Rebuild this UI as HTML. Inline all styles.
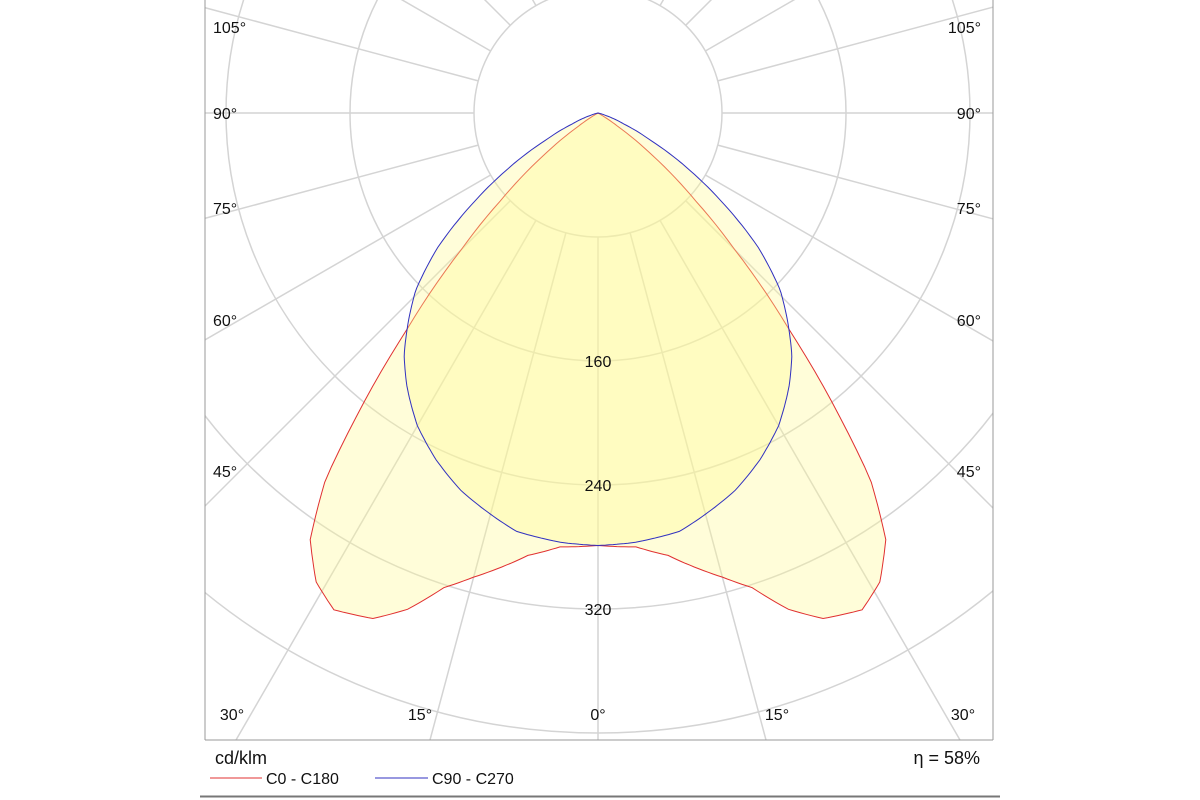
<!DOCTYPE html>
<html><head><meta charset="utf-8">
<style>
html,body{margin:0;padding:0;background:#fff;overflow:hidden;}
svg{display:block;font-family:"Liberation Sans",Arial,sans-serif;}
</style></head>
<body>
<svg id="chart" width="1200" height="800" viewBox="0 0 1200 800">
  <defs><clipPath id="frameClip"><rect x="205" y="0" width="788" height="740"/></clipPath></defs>
  <rect x="0" y="0" width="1200" height="800" fill="#fff"/>
  <g id="grid" clip-path="url(#frameClip)"></g>
  <g id="series" clip-path="url(#frameClip)"></g>
  <g id="labels"></g>
  <line x1="205" y1="0" x2="205" y2="740" stroke="#999" stroke-width="1"/>
  <line x1="993" y1="0" x2="993" y2="740" stroke="#999" stroke-width="1"/>
  <line x1="205" y1="740" x2="993" y2="740" stroke="#999" stroke-width="1"/>
  <text x="215" y="764" font-size="18" fill="#111">cd/klm</text>
  <text x="980" y="764" font-size="18" fill="#111" text-anchor="end">η = 58%</text>
  <line x1="210" y1="778" x2="262" y2="778" stroke="#e03030" stroke-width="1"/>
  <text x="266" y="784" font-size="16" fill="#111">C0 - C180</text>
  <line x1="375" y1="778" x2="428" y2="778" stroke="#3030c0" stroke-width="1"/>
  <text x="432" y="784" font-size="16" fill="#111">C90 - C270</text>
  <line x1="200" y1="796.5" x2="1000" y2="796.5" stroke="#777" stroke-width="2"/>
</svg>
<script>
const redAngles = [0,5,9,15,18,21,24,28,31,34,36.6,38.7,41.4,45,48,52,56,60,90];
const redValues = [279,281,289,310,322,343,357,363,353,332,295,246,187,125,85,45,15,0,0];
const blueAngles = [0,5,11,15,20,25,30,35,38.7,45.8,50,54.5,58,62.6,67,72,76,80,90];
const blueValues = [279,278,275,268,259,247,233,215,200,164,135,97,70,38,18,6,1,0,0];
const ringValues = [80,160,240,320,400,480,560];
const ringLabels = ["160","240","320"];
const sideLabels = ["105°","90°","75°","60°","45°"];
const sideLabelY = [27,113,208,320,471];
const bottomLabels = ["30°","15°","0°","15°","30°"];
const bottomLabelX = [232,420,598,777,963];

const cx = 598, cy = 113, scale = 124 / 80;
const NS = "http://www.w3.org/2000/svg";
function rOf(v){ return v * scale; }
function pt(angDeg, v){ const a = angDeg*Math.PI/180; return [cx + rOf(v)*Math.sin(a), cy + rOf(v)*Math.cos(a)]; }
function interp(angles, vals, a){
  for(let i=0;i<angles.length-1;i++){
    if(a>=angles[i] && a<=angles[i+1]){ const t=(a-angles[i])/(angles[i+1]-angles[i]); return vals[i]+t*(vals[i+1]-vals[i]); }
  }
  return 0;
}
const grid = document.getElementById('grid');
ringValues.forEach((v,i)=>{
  const c = document.createElementNS(NS,'circle');
  c.setAttribute('cx',cx); c.setAttribute('cy',cy); c.setAttribute('r',rOf(v));
  c.setAttribute('fill','none'); c.setAttribute('stroke','#d4d4d4'); c.setAttribute('stroke-width','1.5');
  
  
  grid.appendChild(c);
});
for(let a=0;a<360;a+=15){
  const p1 = pt(a, 80), p2 = pt(a, 900);
  const l = document.createElementNS(NS,'line');
  l.setAttribute('x1',p1[0]); l.setAttribute('y1',p1[1]); l.setAttribute('x2',p2[0]); l.setAttribute('y2',p2[1]);
  l.setAttribute('stroke','#d4d4d4'); l.setAttribute('stroke-width','1.5');
  
  
  grid.appendChild(l);
}
function curve(angles, vals){
  const pts=[];
  for(let a=-90;a<=90;a+=0.5){ const v=interp(angles, vals, Math.abs(a)); pts.push(pt(a,v)); }
  return 'M'+pts.map(p=>p[0].toFixed(1)+','+p[1].toFixed(1)).join(' L')+' Z';
}
const series = document.getElementById('series');
[[redAngles,redValues,'#e03030','series-c0-c180'],[blueAngles,blueValues,'#3030c0','series-c90-c270']].forEach(s=>{
  const p = document.createElementNS(NS,'path');
  p.setAttribute('d', curve(s[0], s[1]));
  p.setAttribute('fill','rgba(255,250,150,0.36)'); p.setAttribute('stroke',s[2]); p.setAttribute('stroke-width','1');
  
  
  series.appendChild(p);
});
const labels = document.getElementById('labels');
function addText(x,y,txt,anchor,name){
  const t=document.createElementNS(NS,'text');
  t.setAttribute('x',x); t.setAttribute('y',y); t.setAttribute('font-size','16'); t.setAttribute('fill','#111');
  t.setAttribute('text-anchor',anchor); t.textContent=txt;
  
  
  labels.appendChild(t);
}
ringLabels.forEach(s=>{ const v=+s; addText(cx, cy+rOf(v)+6, s, 'middle', 'ring-label'); });
sideLabels.forEach((s,i)=>{
  addText(213, sideLabelY[i]+6, s, 'start', 'angle-label-left');
  addText(981, sideLabelY[i]+6, s, 'end', 'angle-label-right');
});
bottomLabels.forEach((s,i)=>{
  addText(bottomLabelX[i], 720, s, 'middle', 'angle-label-bottom');
});
</script>
</body></html>
